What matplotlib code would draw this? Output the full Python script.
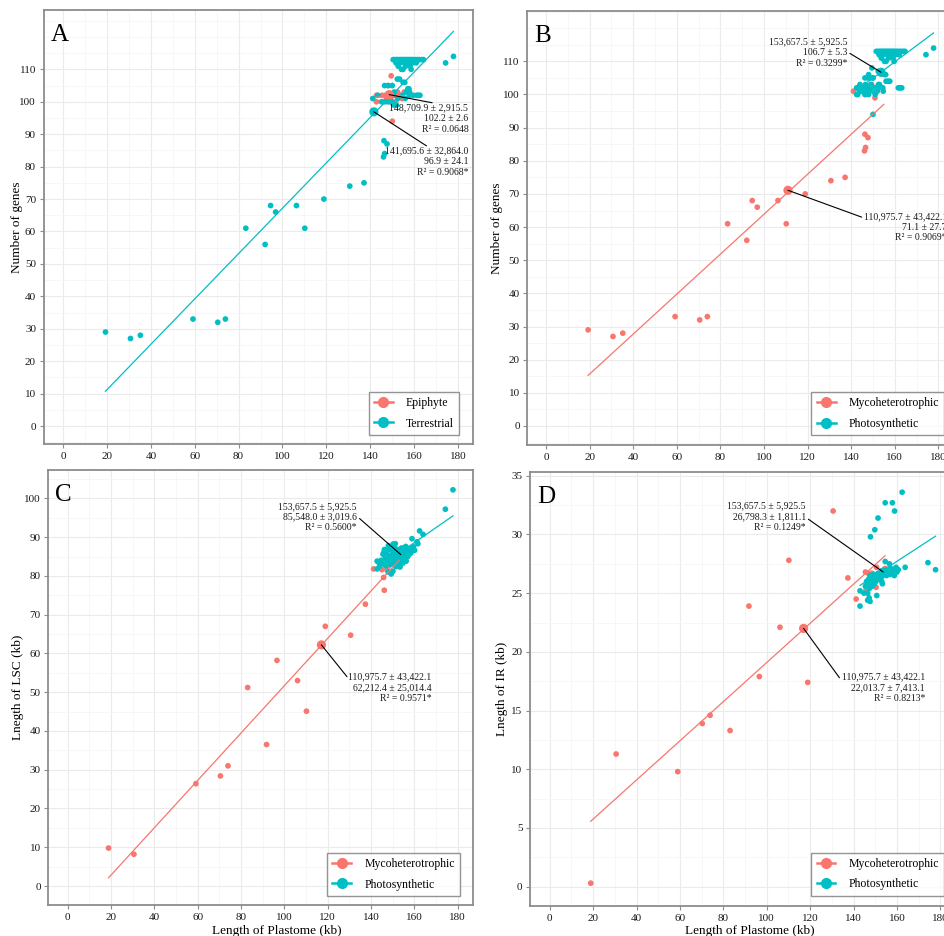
import numpy as np
import matplotlib.pyplot as plt
from matplotlib.lines import Line2D
from matplotlib.ticker import MultipleLocator

plt.rcParams['font.family'] = ['Liberation Serif', 'DejaVu Serif']

RED = '#F8766D'
TEAL = '#00BFC4'

# ---------------- data (kb / gene counts) ----------------
# A: number of genes, epiphyte vs terrestrial
epi_A_x = [149.6, 148.3, 142.9, 142.9, 145.5, 147.0, 148.2, 149.3, 150.0, 151.6,
           153.9, 148.9, 154.6, 151.6, 150.1, 147.5, 152.5, 155.5]
epi_A_y = [108, 105, 102, 100, 102, 102, 102, 101, 102, 102,
           102, 100, 101, 100, 94, 101, 103, 103]
ter_A_x = [19.3, 30.7, 35.2, 59.2, 70.5, 74.0, 83.3, 92.1, 94.6, 96.9,
           106.4, 110.2, 118.9, 130.7, 137.2, 146.3, 147.7, 146.6, 146.1,
           150.5, 151.2, 152.0, 152.6, 153.3, 154.0, 154.6, 155.2, 155.8, 156.5,
           157.1, 157.8, 158.4, 159.0, 159.8, 160.5, 161.5, 162.5, 163.5, 164.3,
           151.8, 153.6, 155.5, 157.3, 159.4, 161.0,
           152.8, 156.2, 158.2, 154.3, 155.0, 158.7,
           152.4, 153.4, 155.0, 155.8, 146.6, 148.2, 150.1, 157.2, 157.7,
           156.6, 151.0, 158.0,
           143.5, 150.5, 154.8, 157.9, 159.5, 161.2, 162.0, 162.7,
           141.2, 152.6, 156.0, 145.2, 146.6, 148.0, 150.0, 150.8, 152.0,
           174.4, 178.0]
ter_A_y = [29, 27, 28, 33, 32, 33, 61, 56, 68, 66,
           68, 61, 70, 74, 75, 88, 87, 84, 83,
           113, 113, 113, 113, 113, 113, 113, 113, 113, 113,
           113, 113, 113, 113, 113, 113, 113, 113, 113, 113,
           112, 112, 112, 112, 112, 112,
           111, 111, 111, 110, 110, 110,
           107, 107, 106, 106, 105, 105, 105, 104, 104,
           103, 103, 103,
           102, 102, 102, 102, 102, 102, 102, 102,
           101, 101, 101, 100, 100, 100, 100, 99, 99,
           112, 114]

# B: number of genes, mycoheterotrophic vs photosynthetic
myc_B_x = [19.3, 30.7, 35.2, 59.2, 70.5, 74.0, 83.3, 92.1, 94.6, 96.9,
           106.4, 110.2, 118.9, 130.7, 137.2, 146.3, 147.7, 146.6, 146.1,
           141.0, 146.6, 150.9, 149.4, 155.0, 148.2, 151.5]
myc_B_y = [29, 27, 28, 33, 32, 33, 61, 56, 68, 66,
           68, 61, 70, 74, 75, 88, 87, 84, 83,
           101, 100, 99, 103, 106, 101, 102]
pho_B_x = [151.5, 152.2, 153.0, 153.6, 154.3, 155.0, 155.6, 156.2, 156.8, 157.5,
           158.1, 158.8, 159.4, 160.0, 160.8, 161.5, 162.4, 163.2, 164.0, 164.7,
           152.8, 154.6, 156.5, 158.3, 160.4, 162.0,
           153.8, 157.2, 159.2, 155.3, 156.0, 159.7,
           149.5, 153.2, 152.4, 148.0, 155.8,
           146.3, 147.5, 148.6, 149.8, 150.1, 156.0, 157.0, 157.7,
           144.0, 149.0, 153.0, 146.5, 152.5,
           142.5, 144.5, 146.5, 148.5, 150.5, 152.5, 154.5, 143.5, 145.0, 161.6,
           162.4, 163.2, 145.5, 147.0,
           145.0, 147.0, 150.1, 152.0, 154.7, 144.0, 148.0, 146.0,
           142.5, 143.0, 146.3, 148.0, 151.0, 150.0,
           174.3, 177.8]
pho_B_y = [113, 113, 113, 113, 113, 113, 113, 113, 113, 113,
           113, 113, 113, 113, 113, 113, 113, 113, 113, 113,
           112, 112, 112, 112, 112, 112,
           111, 111, 111, 110, 110, 110,
           108, 107, 107, 106, 106,
           105, 105, 105, 105, 105, 104, 104, 104,
           103, 103, 103, 103, 103,
           102, 102, 102, 102, 102, 102, 102, 102, 102, 102,
           102, 102, 102, 102,
           101, 101, 101, 101, 101, 101, 101, 101,
           100, 100, 100, 100, 100, 94,
           112, 114]

# C: length of LSC (kb)
myc_C_x = [18.9, 30.6, 59.2, 70.5, 74.0, 83.1, 91.8, 96.6, 106.1, 110.2,
           118.9, 130.6, 137.4, 146.1, 145.8, 141.2, 145.0, 147.3, 150.4,
           148.0, 149.0, 151.0, 152.0, 153.0, 150.0, 152.5]
myc_C_y = [9.8, 8.2, 26.4, 28.4, 31.0, 51.2, 36.5, 58.2, 53.0, 45.1,
           67.0, 64.7, 72.7, 76.3, 79.6, 81.8, 81.6, 81.6, 83.2,
           82.5, 83.0, 84.0, 84.5, 85.0, 83.5, 85.3]
pho_C_x = [142.8, 142.8, 143.5, 144.0, 144.6, 145.2, 145.5, 146.0, 146.4, 146.8,
           147.0, 147.3, 147.6, 147.9, 148.2, 148.5, 148.8, 149.0, 149.3, 149.6,
           149.9, 150.1, 150.4, 150.6, 150.9, 151.2, 151.2, 151.5, 151.8, 152.0,
           152.3, 152.6, 152.8, 153.1, 153.4, 153.6, 153.9, 154.1, 154.4, 154.7,
           154.9, 155.1, 155.4, 155.7, 156.0, 156.2, 156.5, 156.8, 157.1, 157.4,
           157.7, 158.1, 158.4, 158.9, 159.2, 159.6, 160.1, 161.2, 161.6, 162.4,
           164.0, 148.0, 150.2, 146.2, 174.3, 177.8]
pho_C_y = [83.8, 81.8, 83.5, 82.5, 84.0, 83.2, 85.6, 86.2, 84.4, 82.6,
           85.8, 86.4, 83.9, 81.0, 84.8, 86.9, 85.2, 83.0, 80.5, 84.3,
           86.2, 81.2, 85.7, 83.6, 87.4, 88.3, 84.9, 82.4, 86.1, 84.1,
           85.5, 83.0, 86.8, 84.6, 82.3, 85.9, 84.0, 87.2, 85.0, 83.3,
           86.3, 86.8, 84.5, 85.7, 87.6, 83.8, 86.0, 84.9, 87.0, 85.4,
           86.5, 87.1, 85.9, 89.6, 86.8, 87.5, 86.6, 88.8, 88.3, 91.6,
           90.7, 87.8, 88.2, 86.8, 97.2, 102.2]

# D: length of IR (kb)
myc_D_x = [18.9, 30.6, 59.0, 70.3, 73.9, 83.1, 91.8, 96.6, 106.1, 110.2,
           118.9, 130.6, 137.4, 141.2, 145.8, 145.5, 146.8, 148.0, 148.4, 150.4,
           150.6, 154.5, 147.2, 149.0, 152.0, 153.0]
myc_D_y = [0.3, 11.3, 9.8, 13.9, 14.6, 13.3, 23.9, 17.9, 22.1, 27.8,
           17.4, 32.0, 26.3, 24.5, 25.3, 26.8, 26.7, 26.6, 26.7, 25.5,
           27.2, 27.1, 26.2, 26.4, 26.6, 26.9]
pho_D_x = [162.4, 154.6, 157.9, 158.9, 151.3, 149.8, 147.8, 174.3, 177.8, 154.6,
           156.5, 163.8, 160.6,
           143.0, 143.0, 144.8, 146.5, 146.5, 147.2, 147.6, 150.7, 153.0, 153.3,
           145.5, 146.0, 146.5, 147.0, 147.3, 147.6, 148.0, 148.3, 148.6, 149.0,
           149.3, 149.6, 150.0, 150.3, 150.6, 151.0, 151.4, 151.8, 152.2, 152.6,
           153.0, 153.5, 154.0, 154.4, 154.8, 155.2, 155.6, 156.0, 156.4, 156.8,
           157.2, 157.6, 158.0, 158.4, 158.8, 159.2, 159.6, 160.0]
pho_D_y = [33.6, 32.7, 32.7, 32.0, 31.4, 30.4, 29.8, 27.6, 27.0, 27.7,
           27.5, 27.2, 27.0,
           23.9, 25.2, 25.0, 25.0, 24.4, 24.6, 24.3, 24.8, 26.0, 25.8,
           25.6, 26.0, 25.8, 26.2, 25.4, 26.5, 25.9, 26.3, 25.6, 26.1,
           26.6, 25.8, 26.3, 26.0, 26.5, 26.2, 26.7, 26.4, 26.6, 26.3,
           26.8, 26.5, 26.9, 26.6, 26.8, 26.5, 27.0, 26.7, 26.9, 26.6,
           27.1, 26.8, 26.7, 27.0, 26.5, 26.9, 27.2, 26.8]

# group means shown as the large dots (from the figure)
cent_A = [(148.7, 102.2), (141.7, 96.9)]
cent_B = [(111.0, 71.1), (153.7, 106.7)]
cent_C = [(117.1, 62.2), (153.7, 85.5)]
cent_D = [(117.0, 22.0), (153.7, 26.8)]

# labels: text, text x, text y, leader end x, leader end y, group index
notes_A = [("148,709.9 \u00b1 2,915.5\n102.2 \u00b1 2.6\nR\u00b2 = 0.0648", 184.8, 99.4, 168.3, 99.7, 0),
           ("141,695.6 \u00b1 32,864.0\n96.9 \u00b1 24.1\nR\u00b2 = 0.9068*", 184.8, 86.2, 165.7, 86.4, 1)]
notes_B = [("153,657.5 \u00b1 5,925.5\n106.7 \u00b1 5.3\nR\u00b2 = 0.3299*", 138.2, 117.3, 139.4, 112.4, 1),
           ("110,975.7 \u00b1 43,422.1\n71.1 \u00b1 27.7\nR\u00b2 = 0.9069*", 183.9, 64.6, 144.8, 63.0, 0)]
notes_C = [("153,657.5 \u00b1 5,925.5\n85,548.0 \u00b1 3,019.6\nR\u00b2 = 0.5600*", 133.5, 99.1, 134.7, 94.8, 1),
           ("110,975.7 \u00b1 43,422.1\n62,212.4 \u00b1 25,014.4\nR\u00b2 = 0.9571*", 167.8, 55.1, 128.9, 54.0, 0)]
notes_D = [("153,657.5 \u00b1 5,925.5\n26,798.3 \u00b1 1,811.1\nR\u00b2 = 0.1249*", 118.1, 32.8, 119.2, 31.3, 1),
           ("110,975.7 \u00b1 43,422.1\n22,013.7 \u00b1 7,413.1\nR\u00b2 = 0.8213*", 172.9, 18.27, 133.5, 17.8, 0)]

x_ticks = np.arange(0, 181, 20)


def draw(ax, groups, names, cents, notes, letter, xlim, ylim, yticks, yminor,
         ylab, ylab_x, leg_x, leg_y, xlab=None, xlab_xy=None):
    ax.set_xlim(*xlim)
    ax.set_ylim(*ylim)
    ax.set_xticks(x_ticks)
    ax.set_yticks(yticks)
    ax.xaxis.set_minor_locator(MultipleLocator(10))
    ax.yaxis.set_minor_locator(MultipleLocator(yminor))
    ax.grid(which='major', color='#EBEBEB', lw=0.8)
    ax.grid(which='minor', color='#F4F4F4', lw=0.5)
    ax.set_axisbelow(True)
    for s in ax.spines.values():
        s.set_color('#8c8c8c')
        s.set_linewidth(1.3)
    ax.tick_params(which='major', length=3, width=0.8, color='#8c8c8c',
                   labelsize=8, labelcolor='#1a1a1a', pad=2.5)
    ax.tick_params(which='minor', length=0)

    cols = [RED, TEAL]
    for (gx, gy), c in zip(groups, cols):
        ax.scatter(gx, gy, s=17, color=c, edgecolors='none', zorder=3)
    for (gx, gy), c in zip(groups, cols):
        gx = np.asarray(gx)
        k, b = np.polyfit(gx, np.asarray(gy), 1)
        xs = np.array([gx.min(), gx.max()])
        ax.plot(xs, k * xs + b, color=c, lw=0.9, zorder=4)
    for (cx, cy), c in zip(cents, cols):
        ax.scatter([cx], [cy], s=44, color=c, edgecolors='none', zorder=5)
    for txt, tx, ty, lx, ly, gi in notes:
        ax.annotate('', xy=cents[gi], xytext=(lx, ly),
                    arrowprops=dict(arrowstyle='-', color='black', lw=0.8,
                                    shrinkA=0, shrinkB=0), zorder=6)
        ax.text(tx, ty, txt, ha='right', va='top', fontsize=7,
                linespacing=1.25, color='#1a1a1a', zorder=6)

    ax.text(0.016, 0.968, letter, transform=ax.transAxes, ha='left', va='top',
            fontsize=18)
    ax.set_ylabel(ylab, fontsize=9.5)
    ax.yaxis.set_label_coords(ylab_x, 0.5)
    if xlab:
        ax.set_xlabel(xlab, fontsize=9.5)
        ax.xaxis.set_label_coords(*xlab_xy)

    handles = [Line2D([0], [0], color=c, lw=1.8, marker='o', markersize=7)
               for c in cols]
    leg = ax.legend(handles, names, loc='lower right', bbox_to_anchor=(leg_x, leg_y),
                    borderaxespad=0, fontsize=8.5, frameon=True, fancybox=False,
                    handlelength=1.6, handletextpad=1.1, borderpad=0.45,
                    labelspacing=0.7)
    leg.get_frame().set_edgecolor('#7a7a7a')
    leg.get_frame().set_linewidth(1.0)


fig = plt.figure(figsize=(9.45, 9.36), dpi=100)
axA = fig.add_axes([0.0462, 0.5256, 0.4543, 0.4637])
axB = fig.add_axes([0.5580, 0.5246, 0.4509, 0.4637])
axC = fig.add_axes([0.0511, 0.0331, 0.4491, 0.4647])
axD = fig.add_axes([0.5608, 0.0321, 0.4501, 0.4640])

draw(axA, [(epi_A_x, epi_A_y), (ter_A_x, ter_A_y)], ['Epiphyte', 'Terrestrial'],
     cent_A, notes_A, 'A', (-8.9, 186.9), (-5.55, 128.3), np.arange(0, 111, 10), 5,
     'Number of genes', -0.047, 0.968, 0.021)
draw(axB, [(myc_B_x, myc_B_y), (pho_B_x, pho_B_y)], ['Mycoheterotrophic', 'Photosynthetic'],
     cent_B, notes_B, 'B', (-8.6, 186.9), (-5.73, 125.2), np.arange(0, 111, 10), 5,
     'Number of genes', -0.058, 0.979, 0.023)
draw(axC, [(myc_C_x, myc_C_y), (pho_C_x, pho_C_y)], ['Mycoheterotrophic', 'Photosynthetic'],
     cent_C, notes_C, 'C', (-8.9, 186.9), (-4.9, 107.3), np.arange(0, 101, 10), 5,
     'Lnegth of LSC (kb)', -0.058, 0.970, 0.021,
     xlab='Length of Plastome (kb)', xlab_xy=(0.538, -0.046))
draw(axD, [(myc_D_x, myc_D_y), (pho_D_x, pho_D_y)], ['Mycoheterotrophic', 'Photosynthetic'],
     cent_D, notes_D, 'D', (-9.1, 186.9), (-1.64, 35.35), np.arange(0, 36, 5), 2.5,
     'Lnegth of IR (kb)', -0.0506, 0.974, 0.024,
     xlab='Length of Plastome (kb)', xlab_xy=(0.516, -0.0437))

fig.savefig('out.png', dpi=100)
